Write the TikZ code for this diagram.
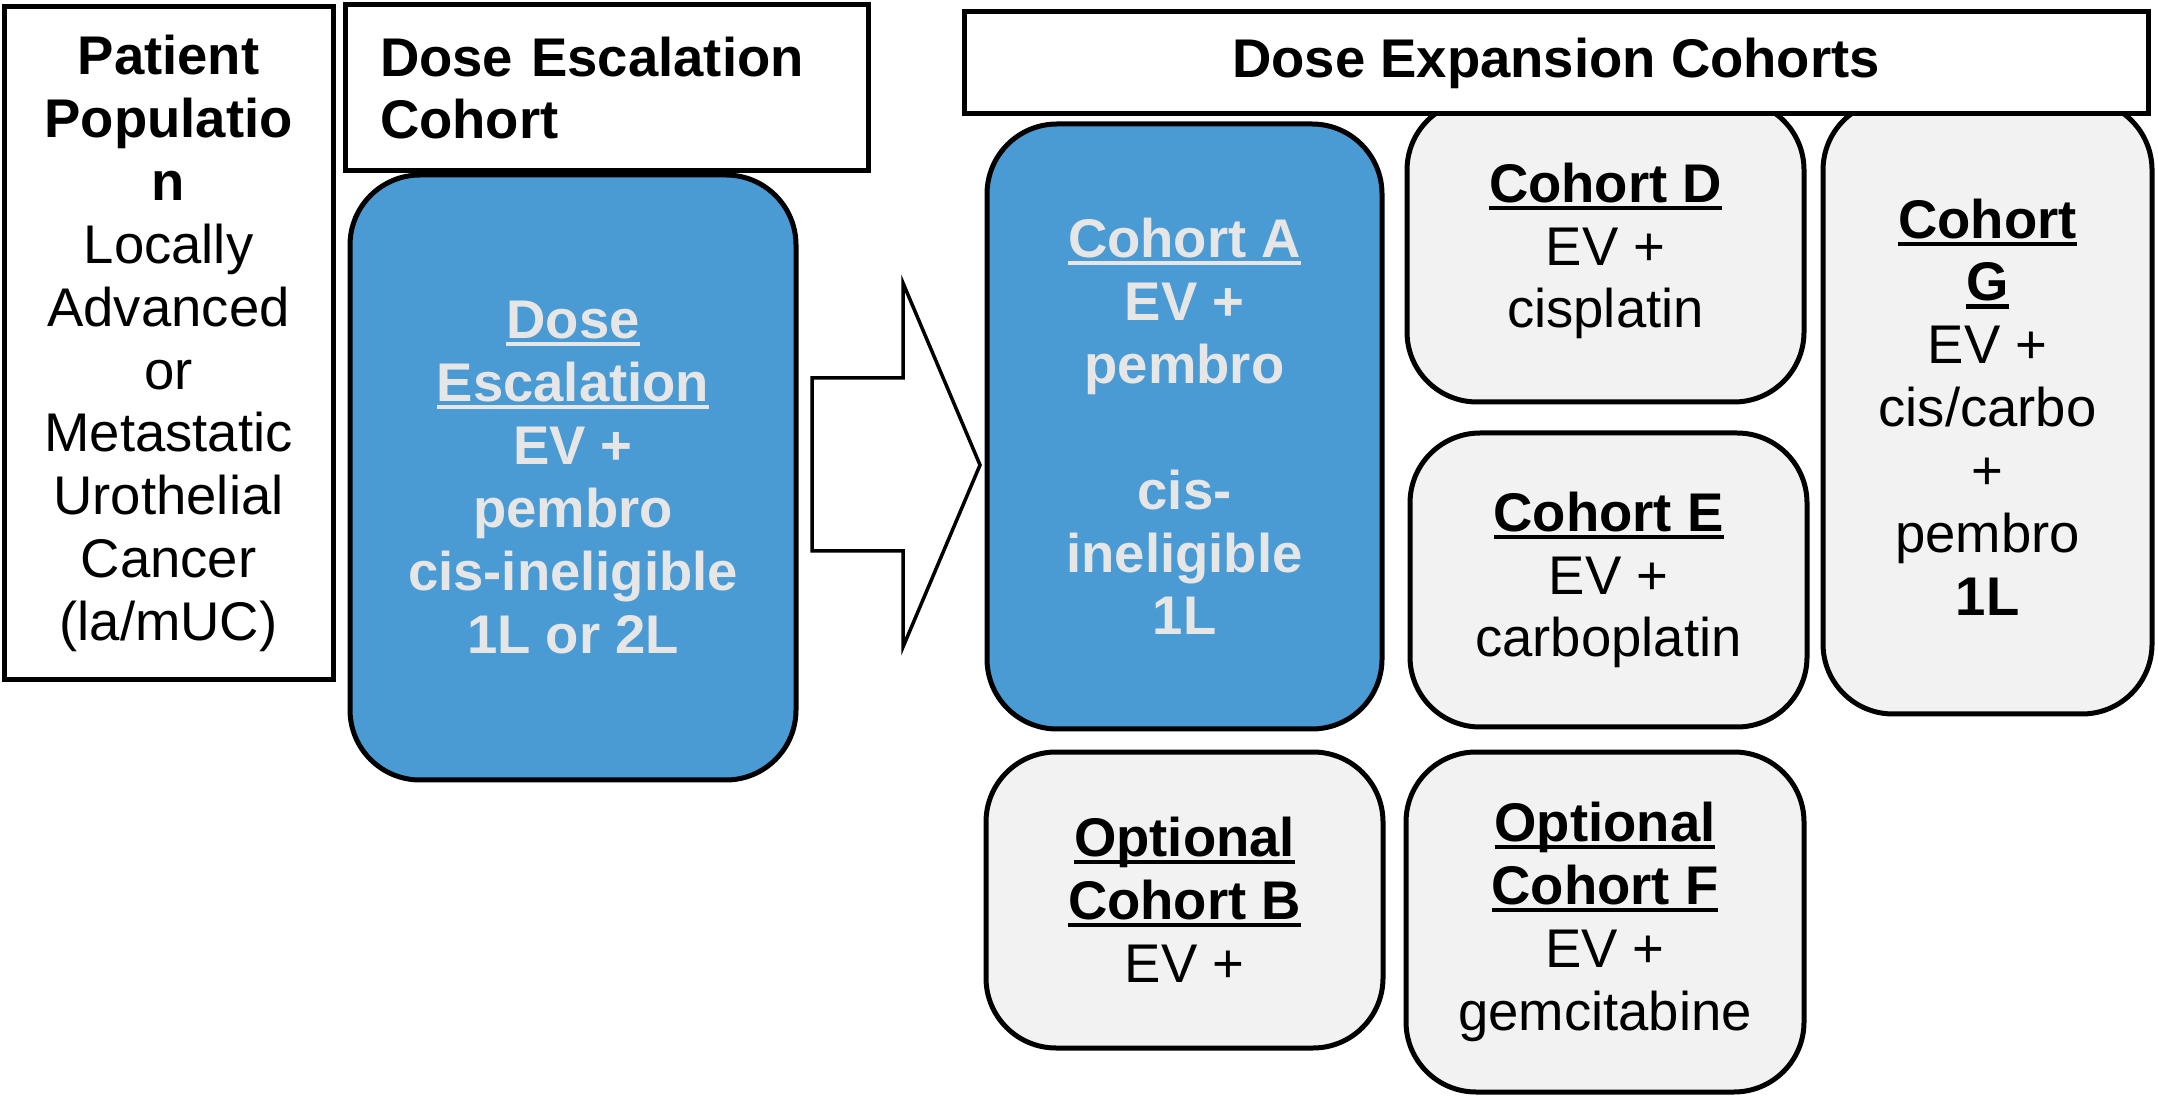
\documentclass[tikz,border=0pt]{standalone}
\usepackage{fontspec}
\setmainfont{Liberation Sans}
\usepackage{xcolor}
\definecolor{cohblue}{HTML}{4A9AD3}
\definecolor{cohgrey}{HTML}{F2F2F2}
\definecolor{paletxt}{HTML}{E7E6E6}
\usepackage{tikz}
\usetikzlibrary{positioning,calc}
\newcommand{\uln}[1]{\leavevmode\setbox0=\hbox{#1}\rlap{\rule[-0.14em]{\wd0}{0.075em}}\box0}

\begin{document}
\begin{tikzpicture}[x=0.1mm,y=-0.1mm,line width=0.5mm,
  font=\fontsize{15.5}{17.9}\selectfont,
  hd/.style={draw,fill=white,align=center,inner sep=0pt},
  coh/.style={draw,fill=cohgrey,rounded corners=7mm,align=center,inner sep=0pt},
  cohb/.style={coh,fill=cohblue,text=paletxt,font=\fontsize{15.5}{17.9}\selectfont\bfseries},
  fat/.style={draw,fill=white,line width=0.35mm,line join=miter}]
  \useasboundingbox (0,0) rectangle (2158,1100);
  % left column
  \node[hd,minimum width=32.9mm,minimum height=67.3mm] (pop) at (168.5,343.5)
    {\textbf{Patient}\\\textbf{Populatio}\\\textbf{n}\\Locally\\Advanced\\or\\Metastatic\\Urothelial\\Cancer\\(la/mUC)};
  \node[hd,minimum width=52.3mm,minimum height=16.6mm,text width=45.3mm,align=left,inner xsep=3.5mm] (eschd) at (606.5,88)
    {\textbf{Dose Escalation}\\\textbf{Cohort}};
  \node[cohb,minimum width=44.6mm,minimum height=60.5mm] (esc) at (573,477.5)
    {\uln{Dose}\\\uln{Escalation}\\EV +\\pembro\\cis-ineligible\\1L or 2L};
  % block arrow
  \coordinate (tip) at (980,465);
  \draw[fat] (tip) -- ++(-77,-182) -- ++(0,95) -- ++(-91,0) -- ++(0,173) -- ++(91,0) -- ++(0,96) -- cycle;
  % expansion cohorts
  \node[coh,minimum width=39.7mm,minimum height=30.2mm] (cD) at (1605.5,251)
    {\textbf{\uln{Cohort D}}\\EV +\\cisplatin};
  \node[coh,minimum width=32.9mm,minimum height=61.4mm] (cG) at (1987.5,407)
    {\textbf{\uln{Cohort}}\\\textbf{\uln{G}}\\EV +\\cis/carbo\\+\\pembro\\\textbf{1L}};
  \node[hd,minimum width=118.4mm,minimum height=10.2mm] (exphd) at (1556,63)
    {\textbf{Dose Expansion Cohorts}};
  \node[cohb,minimum width=39.5mm,minimum height=60.5mm] (cA) at (1184.5,426.5)
    {\uln{Cohort A}\\EV +\\pembro\\\mbox{}\\cis-\\ineligible\\1L};
  \node[coh,minimum width=39.7mm,minimum height=29.4mm] (cE) at (1608.5,580)
    {\textbf{\uln{Cohort E}}\\EV +\\carboplatin};
  \node[coh,minimum width=39.7mm,minimum height=29.6mm] (cB) at (1184.5,900)
    {\textbf{\uln{Optional}}\\\textbf{\uln{Cohort B}}\\EV +};
  \node[coh,minimum width=39.8mm,minimum height=34mm] (cF) at (1605,922)
    {\textbf{\uln{Optional}}\\\textbf{\uln{Cohort F}}\\EV +\\gemcitabine};
\end{tikzpicture}
\end{document}
